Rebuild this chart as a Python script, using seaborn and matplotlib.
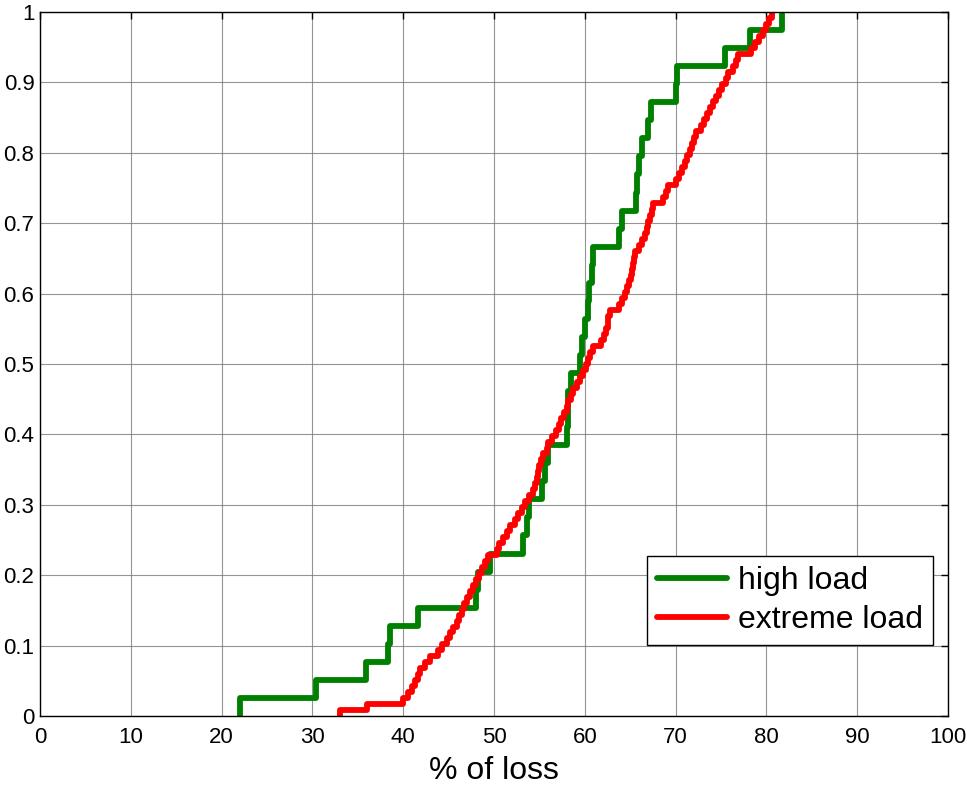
import matplotlib
matplotlib.use("Agg")
import matplotlib.pyplot as plt
import seaborn as sns
import pandas as pd

# Sorted sample values (% of loss)
high_load = [22.0, 30.4, 35.9, 38.3, 38.6, 41.6, 48.0, 48.2, 49.6, 53.2,
             53.6, 53.9, 55.3, 55.6, 56.0, 58.0, 58.1, 58.2, 58.5, 59.5,
             59.7, 60.0, 60.3, 60.5, 60.8, 60.9, 63.8, 64.1, 65.6, 65.7,
             66.0, 66.3, 67.0, 67.3, 70.0, 70.2, 75.4, 78.2, 81.7]

extreme_load = [33.0, 36.0, 40.0, 40.5, 41.0, 41.3, 41.6, 41.9, 42.4, 43.0,
                43.8, 44.3, 44.8, 45.2, 45.5, 45.9, 46.2, 46.5, 46.7, 47.0,
                47.4, 47.7, 48.0, 48.4, 48.7, 49.0, 49.3, 50.3, 50.6, 51.0,
                51.4, 51.8, 52.3, 52.6, 53.1, 53.4, 53.9, 54.3, 54.5, 54.7,
                54.8, 55.0, 55.2, 55.4, 55.8, 56.0, 56.4, 56.8, 57.2, 57.4,
                57.7, 58.0, 58.2, 58.5, 58.7, 59.1, 59.5, 59.8, 60.1, 60.3,
                60.6, 60.9, 61.8, 62.1, 62.3, 62.5, 62.6, 62.8, 63.8, 64.1,
                64.4, 64.7, 64.9, 65.1, 65.2, 65.3, 65.4, 65.5, 66.0, 66.3,
                66.6, 66.8, 67.0, 67.2, 67.4, 67.5, 68.6, 68.9, 69.2, 70.0,
                70.4, 70.7, 71.0, 71.3, 71.6, 71.8, 72.0, 72.2, 72.8, 73.1,
                73.5, 73.8, 74.1, 74.4, 74.8, 75.1, 75.5, 75.8, 76.3, 76.6,
                76.9, 78.3, 78.7, 79.2, 79.6, 80.0, 80.3, 80.6]

series_names = ["high load", "extreme load"]
series_colors = ["#008000", "#ff0000"]
x_ticks = [0, 10, 20, 30, 40, 50, 60, 70, 80, 90, 100]
y_ticks = [0, 0.1, 0.2, 0.3, 0.4, 0.5, 0.6, 0.7, 0.8, 0.9, 1]
y_tick_labels = ["0", "0.1", "0.2", "0.3", "0.4", "0.5", "0.6", "0.7", "0.8", "0.9", "1"]
x_label = "% of loss"

sns.set_theme(style="white")
plt.rcParams["font.family"] = ["Liberation Sans", "DejaVu Sans"]
plt.rcParams["text.color"] = "black"

fig = plt.figure(figsize=(9.67, 7.86), dpi=100)
ax = fig.add_axes([40 / 967, 1 - 716 / 786, 908 / 967, 704 / 786])

df = pd.DataFrame({
    "loss": high_load + extreme_load,
    "series": [series_names[0]] * len(high_load) + [series_names[1]] * len(extreme_load),
})

for name, color in zip(series_names, series_colors):
    sns.ecdfplot(data=df[df["series"] == name], x="loss", ax=ax,
                 color=color, linewidth=4.2, label=name)

ax.set_xlim(0, 100)
ax.set_ylim(0, 1)
ax.set_xticks(x_ticks)
ax.set_yticks(y_ticks)
ax.set_yticklabels(y_tick_labels)
ax.grid(True, color="#7a7a7a", linewidth=0.8, alpha=0.8)
ax.set_axisbelow(True)
for s in ax.spines.values():
    s.set_color("black")
    s.set_linewidth(1.0)
ax.tick_params(axis="both", direction="in", length=5, width=1, colors="black",
               labelsize=16, top=True, right=True, labelcolor="black")
ax.tick_params(axis="x", pad=8)
ax.tick_params(axis="y", pad=4)
ax.set_xlabel(x_label, fontsize=23, color="black", labelpad=6)
ax.set_ylabel("")

leg = ax.legend(loc="lower right", bbox_to_anchor=(0.983, 0.101), borderaxespad=0,
                fontsize=23, frameon=True, fancybox=False, handlelength=2.2,
                handletextpad=0.35, borderpad=0.3, labelspacing=0.3,
                labelcolor="black")
leg.get_frame().set_edgecolor("black")
leg.get_frame().set_linewidth(1.0)
leg.get_frame().set_alpha(1)

fig.savefig("out.png", dpi=100)
